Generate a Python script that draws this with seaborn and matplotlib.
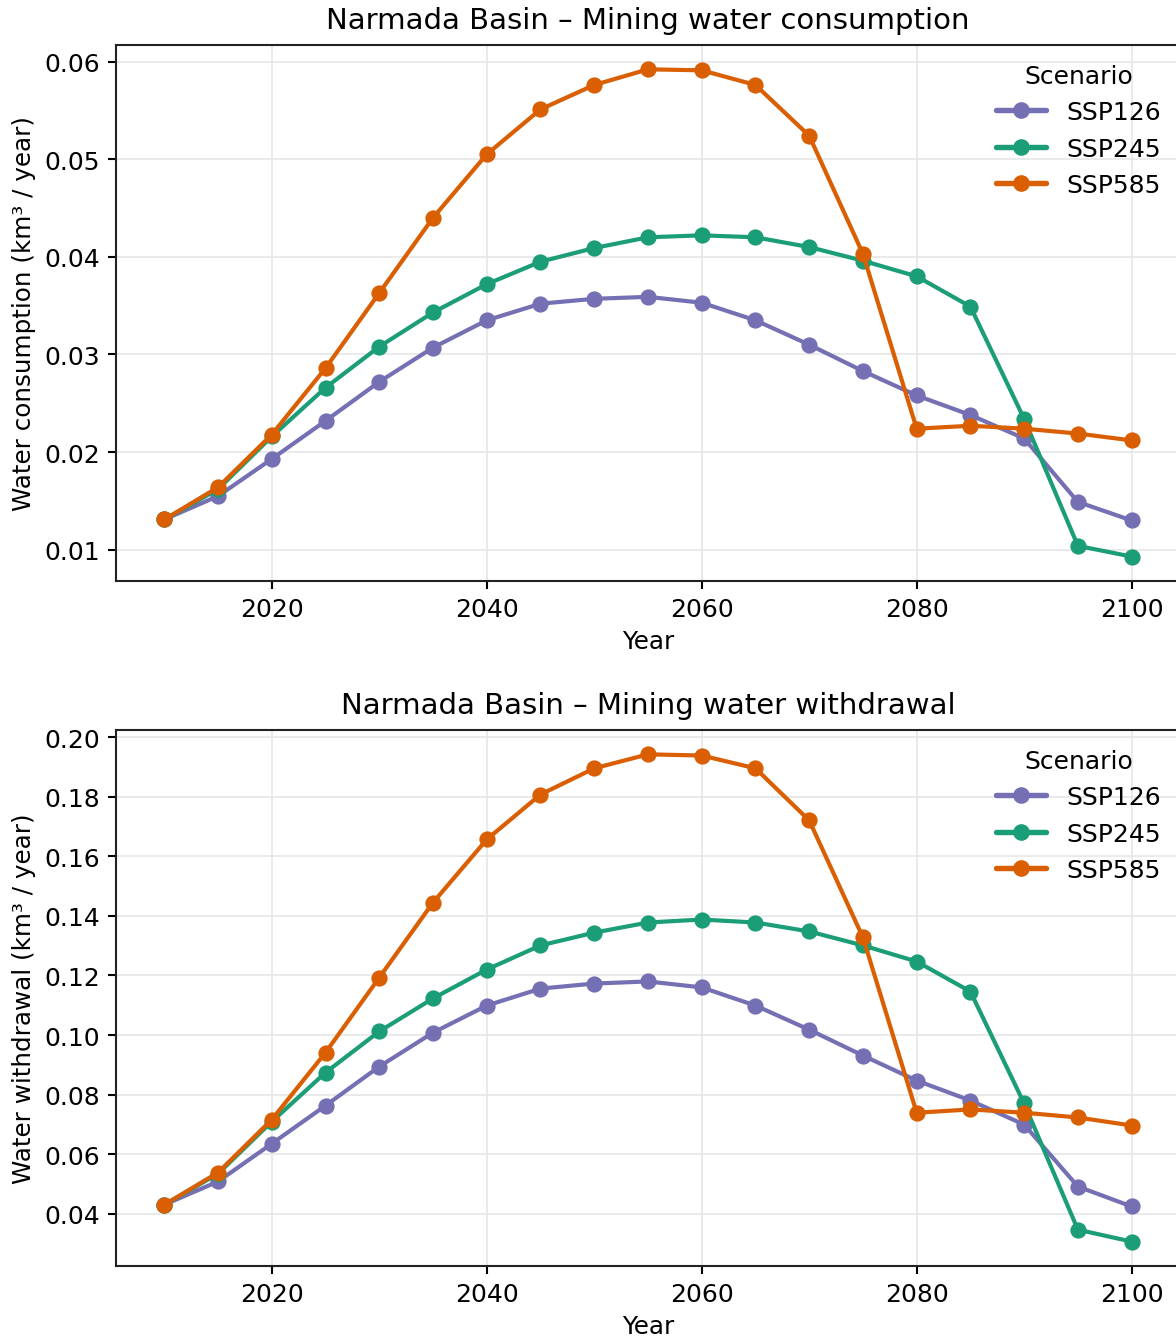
import pandas as pd
import matplotlib.pyplot as plt
import seaborn as sns

# Years and scenario values
years = list(range(2010, 2101, 5))
scenarios = ["SSP126", "SSP245", "SSP585"]

cons_ssp126 = [0.0131, 0.0155, 0.0193, 0.0232, 0.0272, 0.0307, 0.0335, 0.0352, 0.0357, 0.0359,
               0.0353, 0.0335, 0.0310, 0.0283, 0.0258, 0.0238, 0.0214, 0.0149, 0.0130]
cons_ssp245 = [0.0131, 0.0162, 0.0216, 0.0266, 0.0308, 0.0343, 0.0372, 0.0395, 0.0409, 0.0420,
               0.0422, 0.0420, 0.0410, 0.0396, 0.0380, 0.0349, 0.0234, 0.0104, 0.0093]
cons_ssp585 = [0.0131, 0.0164, 0.0218, 0.0286, 0.0363, 0.0440, 0.0505, 0.0551, 0.0576, 0.0592,
               0.0591, 0.0576, 0.0524, 0.0403, 0.0224, 0.0227, 0.0224, 0.0219, 0.0212]

with_ssp126 = [0.0430, 0.0508, 0.0635, 0.0763, 0.0894, 0.1008, 0.1099, 0.1156, 0.1173, 0.1180,
               0.1160, 0.1099, 0.1018, 0.0931, 0.0847, 0.0780, 0.0699, 0.0491, 0.0424]
with_ssp245 = [0.0430, 0.0534, 0.0709, 0.0874, 0.1012, 0.1123, 0.1220, 0.1301, 0.1344, 0.1378,
               0.1388, 0.1378, 0.1348, 0.1301, 0.1247, 0.1146, 0.0770, 0.0346, 0.0306]
with_ssp585 = [0.0430, 0.0538, 0.0716, 0.0941, 0.1193, 0.1445, 0.1657, 0.1808, 0.1896, 0.1943,
               0.1939, 0.1896, 0.1721, 0.1328, 0.0739, 0.0750, 0.0739, 0.0723, 0.0696]

palette = {"SSP126": "#7570b3", "SSP245": "#1b9e77", "SSP585": "#d95f02"}


def long_df(series):
    rows = []
    for name, vals in zip(scenarios, series):
        for y, v in zip(years, vals):
            rows.append({"Year": y, "Scenario": name, "Value": v})
    return pd.DataFrame(rows)


df_cons = long_df([cons_ssp126, cons_ssp245, cons_ssp585])
df_with = long_df([with_ssp126, with_ssp245, with_ssp585])

sns.set_style("ticks")
plt.rcParams["font.family"] = ["DejaVu Sans"]
plt.rcParams["axes.linewidth"] = 1.0
plt.rcParams["text.color"] = "black"
plt.rcParams["axes.labelcolor"] = "black"
plt.rcParams["xtick.color"] = "black"
plt.rcParams["ytick.color"] = "black"
plt.rcParams["axes.edgecolor"] = "#222222"

fig = plt.figure(figsize=(7.84, 8.9333), dpi=150)
ax1 = fig.add_axes([0.0986, 0.5657, 0.9048, 0.4])
ax2 = fig.add_axes([0.0986, 0.0545, 0.9048, 0.4])

panels = [
    (ax1, df_cons, "Narmada Basin – Mining water consumption", "Water consumption (km³ / year)"),
    (ax2, df_with, "Narmada Basin – Mining water withdrawal", "Water withdrawal (km³ / year)"),
]

for ax, d, title, ylabel in panels:
    sns.lineplot(data=d, x="Year", y="Value", hue="Scenario", palette=palette,
                 marker="o", markersize=7.8, markeredgewidth=0, linewidth=2.0, ax=ax)
    ax.grid(True, color="#e6e6e6", linewidth=0.8)
    ax.set_axisbelow(True)
    ax.set_title(title, fontsize=14, pad=8)
    ax.set_xlabel("Year", fontsize=11.8, labelpad=4)
    ax.set_ylabel(ylabel, fontsize=11.8, labelpad=4)
    ax.tick_params(labelsize=12, length=4, width=1)
    ax.set_xticks([2020, 2040, 2060, 2080, 2100])
    leg = ax.legend(title="Scenario", loc="upper right", frameon=False,
                    fontsize=12, title_fontsize=12, borderaxespad=0.35,
                    handlelength=2.0, labelspacing=0.5)
    for h in leg.legend_handles:
        h.set_linewidth(2.6)
        h.set_markersize(8)

ax1.set_yticks([0.01, 0.02, 0.03, 0.04, 0.05, 0.06])
ax2.set_yticks([0.04, 0.06, 0.08, 0.10, 0.12, 0.14, 0.16, 0.18, 0.20])
ax2.yaxis.set_major_formatter(plt.FormatStrFormatter("%.2f"))

fig.savefig("out.png", dpi=150)
